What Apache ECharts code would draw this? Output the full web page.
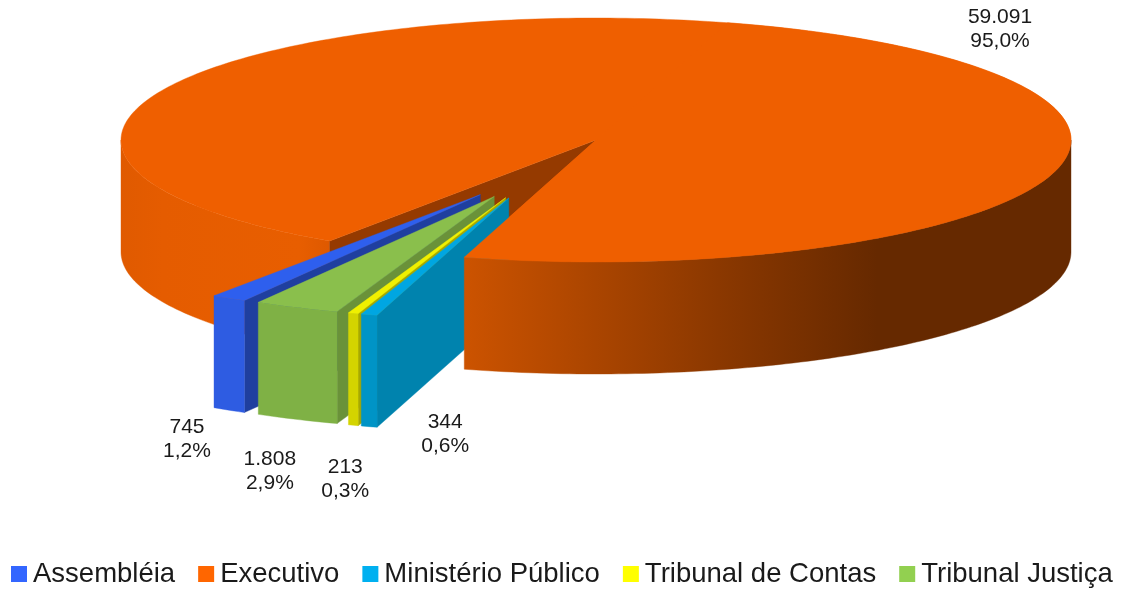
<!DOCTYPE html>
<html>
<head>
<meta charset="utf-8">
<title>Pizza 3D</title>
<script src="https://cdn.jsdelivr.net/npm/echarts@6/dist/echarts.min.js"></script>
<style>
  html,body{margin:0;padding:0;background:#fff;}
  #chart{width:1126px;height:591px;}
</style>
</head>
<body>
<div id="chart"></div>
<script>
  // dados
  var categories = ['Assembléia','Executivo','Ministério Público','Tribunal de Contas','Tribunal Justiça'];
  var values = [745,59091,344,213,1808];
  var legendColors = ['#3366ff','#ff6600','#00b0f0','#ffff00','#92d050'];

  // geometria do "3D"
  var cx = 596, cy = 140, rx = 475, ry = 122, depth = 112;
  var startAngle = 34.1;   // graus, sentido horario a partir de baixo
  var explode = 0.51;
  var fontName = '"Liberation Sans"';

  var total = values.reduce(function(a,b){return a+b;},0);

  // angulos de cada fatia (Assembléia termina em startAngle, segue Executivo...)
  var angles = {};
  var acc = startAngle - values[0]/total*360;
  categories.forEach(function(name,i){
    var span = values[i]/total*360;
    angles[name] = {from:acc,to:acc+span};
    acc += span;
  });
  var wedgeMid = startAngle - (total-values[1])/total*180;

  function pt(a,ox,oy){
    var r = a*Math.PI/180;
    return [cx+ox-rx*Math.sin(r), cy+oy+ry*Math.cos(r)];
  }
  function arc(a1,a2,ox,oy,dy){
    var out = [], n = Math.max(2,Math.ceil(Math.abs(a2-a1)));
    for(var i=0;i<=n;i++){
      var p = pt(a1+(a2-a1)*i/n,ox,oy);
      out.push([p[0],p[1]+(dy||0)]);
    }
    return out;
  }
  function poly(points,fill){
    return {type:'polygon',silent:true,shape:{points:points},style:{fill:fill,stroke:fill,lineWidth:0.4}};
  }
  function hGrad(x1,x2,stops){
    return {type:'linear',x:x1,y:0,x2:x2,y2:0,global:true,colorStops:stops};
  }
  function labelOf(i){
    var n = String(values[i]).replace(/\B(?=(\d{3})+$)/g,'.');
    var p = (values[i]/total*100).toFixed(1).replace('.',',');
    return n+'\n'+p+'%';
  }
  function label(i,x,y){
    return {type:'text',silent:true,style:{text:labelOf(i),x:x,y:y,fill:'#1a1a1a',
      font:'21px '+fontName,align:'center',verticalAlign:'middle',lineHeight:24}};
  }

  // faces de uma fatia destacada
  var sliceColors = {
    'Assembléia':{top:'#2e5fee',front:'#2e5ce2',side:'#1f3f9f'},
    'Ministério Público':{top:'#00a6e2',front:'#0094c6',side:'#0083ae'},
    'Tribunal de Contas':{top:'#f0f000',front:'#d4d400',side:'#a8a800'},
    'Tribunal Justiça':{top:'#8abf4c',front:'#7fb145',side:'#6a9239'}
  };
  // deslocamento do rotulo em relacao ao meio da borda inferior
  var labelShift = {
    'Assembléia':[-42,29],
    'Tribunal Justiça':[-27,52],
    'Tribunal de Contas':[-8,54],
    'Ministério Público':[76,8]
  };
  function renderSlice(params,api){
    var name = params.seriesName, i = categories.indexOf(name);
    var a = angles[name], c = sliceColors[name];
    // depois do Executivo os angulos passam de uma volta
    var from = a.from%360, to = from+(a.to-a.from);
    var mid = (from+to)/2;
    var dirA = ((mid+wedgeMid)/2)*Math.PI/180;
    var ox = -explode*rx*Math.sin(dirA), oy = explode*ry*Math.cos(dirA);
    var apex = [cx+ox,cy+oy];
    var rimTop = arc(from,to,ox,oy,0);
    var rimBot = arc(from,to,ox,oy,depth);
    var lo = rimTop[0];
    var bm = pt(mid,ox,oy);
    var sh = labelShift[name];
    return {type:'group',children:[
      poly([apex,lo,[lo[0],lo[1]+depth],[apex[0],apex[1]+depth]],c.side),
      poly(rimTop.concat(rimBot.slice().reverse()),c.front),
      poly([apex].concat(rimTop),c.top),
      label(i,bm[0]+sh[0],bm[1]+depth+sh[1])
    ]};
  }
  // parte de tras do Executivo: lado esquerdo, corte e topo
  function renderExecBack(params,api){
    var a = angles['Executivo'];
    var rimTop = arc(a.from,90,0,0,0);
    var rimBot = arc(a.from,90,0,0,depth);
    var e = pt(a.from,0,0);
    return {type:'group',children:[
      poly(rimTop.concat(rimBot.slice().reverse()),
        hGrad(cx-rx,e[0],[{offset:0,color:'#e05a00'},{offset:.2,color:'#e55c00'},{offset:.85,color:'#e85e00'},{offset:1,color:'#de5900'}])),
      poly([[cx,cy],e,[e[0],e[1]+depth],[cx,cy+depth]],'#953a00'),
      poly([[cx,cy]].concat(arc(a.from,a.to,0,0,0)),'#ef5f00')
    ]};
  }
  // parte da frente do Executivo: passa por cima das fatias destacadas
  function renderExecFront(params,api){
    var a = angles['Executivo'];
    var rimTop = arc(270,a.to,0,0,0);
    var rimBot = arc(270,a.to,0,0,depth);
    var e = pt(a.to,0,0);
    return {type:'group',children:[
      poly(rimTop.concat(rimBot.slice().reverse()),
        hGrad(e[0],cx+rx,[{offset:0,color:'#cc5300'},{offset:.2,color:'#ad4600'},{offset:.42,color:'#8b3800'},{offset:.68,color:'#662900'},{offset:1,color:'#662900'}])),
      poly([[cx,cy]].concat(arc(a.to-180,a.to,0,0,0)),'#ef5f00'),
      label(1,1000,29)
    ]};
  }

  function customSeries(name,z,color,fn){
    return {type:'custom',name:name,z:z,coordinateSystem:'none',animation:false,silent:true,
      itemStyle:{color:color},renderItem:fn,data:[[values[categories.indexOf(name)]]]};
  }

  var chart = echarts.init(document.getElementById('chart'),null,{renderer:'canvas'});
  chart.setOption({
    animation:false,
    backgroundColor:'#fff',
    legend:{
      data:categories,
      left:6,
      top:555,
      icon:'rect',
      itemWidth:16,
      itemHeight:16,
      itemGap:23,
      selectedMode:false,
      textStyle:{fontFamily:fontName,fontSize:27.5,color:'#1a1a1a',padding:[0,0,0,1]}
    },
    series:[
      customSeries('Executivo',1,legendColors[1],renderExecBack),
      customSeries('Assembléia',2,legendColors[0],renderSlice),
      customSeries('Tribunal Justiça',3,legendColors[4],renderSlice),
      customSeries('Tribunal de Contas',4,legendColors[3],renderSlice),
      customSeries('Ministério Público',5,legendColors[2],renderSlice),
      customSeries('Executivo',6,legendColors[1],renderExecFront)
    ]
  });
</script>
</body>
</html>
